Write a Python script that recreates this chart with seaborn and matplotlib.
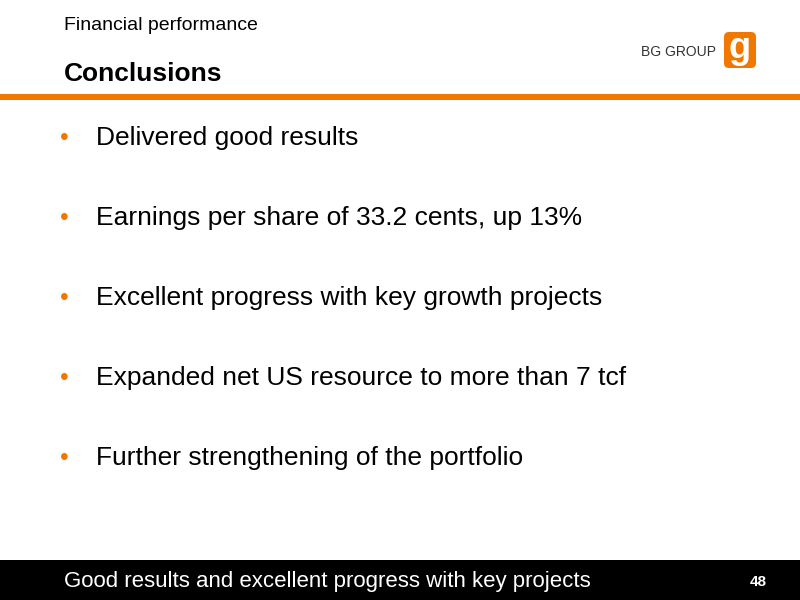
import matplotlib
matplotlib.use("Agg")
import matplotlib.pyplot as plt
import seaborn as sns
from matplotlib.patches import Rectangle, FancyBboxPatch

section = "Financial performance"
title = "Conclusions"
bullets = [
    "Delivered good results",
    "Earnings per share of 33.2 cents, up 13%",
    "Excellent progress with key growth projects",
    "Expanded net US resource to more than 7 tcf",
    "Further strengthening of the portfolio",
]
footer = "Good results and excellent progress with key projects"
page = "48"
orange = "#F07800"

sns.set_theme(style="white")
plt.rcParams['font.family'] = 'sans-serif'
plt.rcParams['font.sans-serif'] = ['Liberation Sans', 'Arial', 'DejaVu Sans']

fig = plt.figure(figsize=(8, 6), dpi=100)
ax = fig.add_axes([0, 0, 1, 1])
ax.set_xlim(0, 800)
ax.set_ylim(600, 0)
ax.axis("off")

ax.text(64, 26, section, fontsize=14, va="center", color="black")
ax.text(64, 74, title, fontsize=19, fontweight="bold", va="center", color="black")
ax.add_patch(Rectangle((0, 94), 800, 6, color=orange, lw=0))

# logo
ax.text(716, 52, "BG GROUP", fontsize=10, ha="right", va="center", color="#333333")
ax.add_patch(FancyBboxPatch((724, 32), 32, 36, boxstyle="round,pad=0,rounding_size=5",
                            color=orange, lw=0))
ax.text(740, 49, "g", fontsize=26, fontweight="bold", ha="center", va="center", color="white")

for i, b in enumerate(bullets):
    y = 138 + 80 * i
    ax.text(60, y, "•", fontsize=18, va="center", color=orange)
    ax.text(96, y, b, fontsize=19, va="center", color="black")

ax.add_patch(Rectangle((0, 560), 800, 40, color="black", lw=0))
ax.text(64, 581, footer, fontsize=16, va="center", color="white")
ax.text(767, 582, page, fontsize=11, fontweight="bold", ha="right", va="center", color="white")

fig.savefig("out.png", dpi=100)
plt.close(fig)
